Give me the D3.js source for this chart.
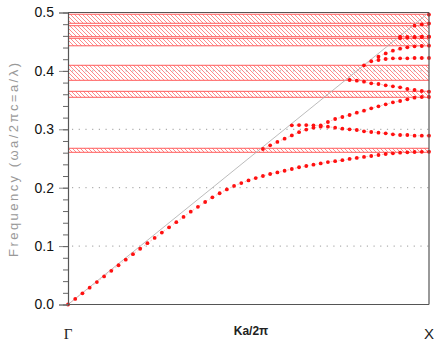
<!DOCTYPE html>
<html>
<head>
<meta charset="utf-8">
<script src="https://cdn.jsdelivr.net/npm/d3@7"></script>
<style>
  html, body { margin: 0; padding: 0; background: #fff; }
  svg { display: block; }
</style>
</head>
<body>
<svg id="chart" width="434" height="347"></svg>
<script>
// Wave-vector samples along Γ → X (Ka/2π)
const kPoints = [0.00,0.01,0.02,0.03,0.04,0.05,0.06,0.07,0.08,0.09,
                 0.10,0.11,0.12,0.13,0.14,0.15,0.16,0.17,0.18,0.19,
                 0.20,0.21,0.22,0.23,0.24,0.25,0.26,0.27,0.28,0.29,
                 0.30,0.31,0.32,0.33,0.34,0.35,0.36,0.37,0.38,0.39,
                 0.40,0.41,0.42,0.43,0.44,0.45,0.46,0.47,0.48,0.49,0.50];

// Guided bands (below the light line); each starts at index bandStart[n]
const band1 = [0,0.0096,0.0192,0.0288,0.0384,0.048,0.0576,0.0672,0.0768,0.0862,
               0.0955,0.1050,0.1140,0.1232,0.1322,0.1410,0.1500,0.1590,0.1672,0.1755,
               0.1835,0.1905,0.1970,0.2030,0.2080,0.2125,0.2165,0.2200,0.2235,0.2262,
               0.2290,0.2320,0.2350,0.2372,0.2395,0.2415,0.2438,0.2455,0.2472,0.2492,
               0.2510,0.2527,0.2543,0.2560,0.2577,0.2589,0.2599,0.2606,0.2611,0.2614,0.2616];
const band2 = [0.2663,0.2726,0.2783,0.2839,0.2895,0.2950,0.2995,0.3027,0.3045,0.3045,
               0.3027,0.3010,0.3000,0.2988,0.2966,0.2954,0.2942,0.2931,0.2914,0.2902,
               0.2902,0.2890,0.2890,0.2890];
const band3 = [0.3068,0.3072,0.3072,0.3068,0.3068,0.3125,0.3176,0.3211,0.3245,0.3284,
               0.3319,0.3359,0.3394,0.3428,0.3462,0.3485,0.3514,0.3541,0.3553,0.3553];
const band4 = [0.3844,0.3832,0.3815,0.3788,0.3776,0.3753,0.3736,0.3719,0.3690,0.3673,
               0.3656,0.3644];
const band5 = [0.4096,0.4165,0.4187,0.4204,0.4215,0.4215,0.4215,0.4221,0.4221,0.4221];
const band6 = [0.4243,0.4300,0.4346,0.4380,0.4404,0.4421,0.4426,0.4432];
const band7 = [0.4560,0.4568,0.4575,0.4580,0.4584];
const band8 = [0.4586,0.4584,0.4584,0.4586,0.4586];
const band9 = [0.4774,0.4795,0.4812];
const band10 = [0.4965];
const bandStart = [0, 27, 31, 39, 41, 43, 46, 46, 48, 50];

// Photonic band gaps [low, high]
const gapLow  = [0.2606, 0.3548, 0.3839, 0.4430, 0.4586, 0.4815];
const gapHigh = [0.2675, 0.3650, 0.4096, 0.4558, 0.4774, 0.4970];

const yTicks = [0.0, 0.1, 0.2, 0.3, 0.4, 0.5];
const gridValues = [0.1, 0.2, 0.3, 0.4];

const svg = d3.select("#chart");
const x = d3.scaleLinear().domain([0, 0.5]).range([68, 429]);
const y = d3.scaleLinear().domain([0, 0.5]).range([304.5, 12.5]);

// hatch pattern for gap regions
const defs = svg.append("defs");
const pat = defs.append("pattern")
  .attr("id", "hatch").attr("patternUnits", "userSpaceOnUse")
  .attr("width", 4).attr("height", 4);
pat.append("path")
  .attr("d", "M-1,-1 L5,5 M-1,3 L1,5 M3,-1 L5,1")
  .attr("stroke", "#ff8a8a").attr("stroke-width", 1).attr("fill", "none");

const gaps = gapLow.map((lo, i) => ({lo, hi: gapHigh[i]}));
const gapG = svg.append("g");
gapG.selectAll("rect").data(gaps).join("rect")
  .attr("x", x(0)).attr("width", x(0.5) - x(0))
  .attr("y", d => y(d.hi)).attr("height", d => y(d.lo) - y(d.hi))
  .attr("fill", "url(#hatch)");
gapG.selectAll("line.top").data(gaps).join("line").attr("class", "top")
  .attr("x1", x(0)).attr("x2", x(0.5))
  .attr("y1", d => y(d.hi)).attr("y2", d => y(d.hi))
  .attr("stroke", "#ff5c5c").attr("stroke-width", 1);
gapG.selectAll("line.bot").data(gaps).join("line").attr("class", "bot")
  .attr("x1", x(0)).attr("x2", x(0.5))
  .attr("y1", d => y(d.lo)).attr("y2", d => y(d.lo))
  .attr("stroke", "#ff5c5c").attr("stroke-width", 1);

// dotted grid
svg.append("g").selectAll("line").data(gridValues).join("line")
  .attr("x1", x(0) + 4).attr("x2", x(0.5))
  .attr("y1", d => y(d)).attr("y2", d => y(d))
  .attr("stroke", "#9a9a9a").attr("stroke-width", 1)
  .attr("stroke-dasharray", "1.2,5.5");

// light line
svg.append("line")
  .attr("x1", x(0)).attr("y1", y(0)).attr("x2", x(0.5)).attr("y2", y(0.5))
  .attr("stroke", "#b4b4b4").attr("stroke-width", 0.9);

// bands
const bands = [band1, band2, band3, band4, band5, band6, band7, band8, band9, band10]
  .map((vals, b) => vals.map((f, j) => ({k: kPoints[bandStart[b] + j], f})));

const line = d3.line().x(d => x(d.k)).y(d => y(d.f));
svg.append("g").selectAll("path").data(bands).join("path")
  .attr("d", line).attr("fill", "none")
  .attr("stroke", "#ffb0b0").attr("stroke-width", 0.8)
  .attr("stroke-dasharray", "2,2");

svg.append("g").selectAll("g").data(bands).join("g")
  .selectAll("circle").data(d => d).join("circle")
  .attr("cx", d => x(d.k)).attr("cy", d => y(d.f)).attr("r", 1.9)
  .attr("fill", "#ff1010");

// frame
const frame = svg.append("g").attr("stroke", "#555").attr("stroke-width", 1.2);
frame.append("line").attr("x1", x(0)).attr("x2", x(0.5)).attr("y1", y(0.5)).attr("y2", y(0.5));
frame.append("line").attr("x1", x(0.5)).attr("x2", x(0.5)).attr("y1", y(0.5)).attr("y2", y(0));

// y axis
const yAxis = d3.axisLeft(y).tickValues(yTicks).tickFormat(d3.format(".1f")).tickSize(9).tickPadding(5);
const ya = svg.append("g").attr("transform", `translate(${x(0)},0)`).call(yAxis);
ya.select(".domain").attr("stroke", "#555").attr("stroke-width", 1.2);
ya.selectAll(".tick line").attr("stroke", "#888");
ya.selectAll(".tick text").attr("fill", "#111").attr("font-size", 14)
  .attr("font-family", "Liberation Sans, Arial, sans-serif");
const yMinor = d3.axisLeft(y).ticks(25).tickFormat("").tickSize(5);
const ym = svg.append("g").attr("transform", `translate(${x(0)},0)`).call(yMinor);
ym.select(".domain").remove();
ym.selectAll(".tick line").attr("stroke", "#666");

// x axis line
svg.append("line").attr("x1", x(0)).attr("x2", x(0.5)).attr("y1", y(0)).attr("y2", y(0))
  .attr("stroke", "#555").attr("stroke-width", 1.2);

// labels
svg.append("text").attr("x", x(0)).attr("y", 339).attr("text-anchor", "middle")
  .attr("font-family", "Liberation Serif, Times New Roman, serif").attr("font-size", 15)
  .attr("fill", "#222").text("Γ");
svg.append("text").attr("x", x(0.5)).attr("y", 339).attr("text-anchor", "middle")
  .attr("font-family", "Liberation Sans, Arial, sans-serif").attr("font-size", 15)
  .attr("fill", "#222").text("X");
svg.append("text").attr("x", 251).attr("y", 335).attr("text-anchor", "middle")
  .attr("font-family", "Liberation Sans, Arial, sans-serif").attr("font-size", 12)
  .attr("font-weight", "bold").attr("fill", "#222").text("Ka/2π");
svg.append("text").attr("transform", "translate(18,160) rotate(-90)")
  .attr("text-anchor", "middle")
  .attr("font-family", "Liberation Sans, Arial, sans-serif").attr("font-size", 13)
  .attr("textLength", 194).attr("lengthAdjust", "spacing")
  .attr("fill", "#999").text("Frequency (ωa/2πc=a/λ)");
</script>
</body>
</html>
